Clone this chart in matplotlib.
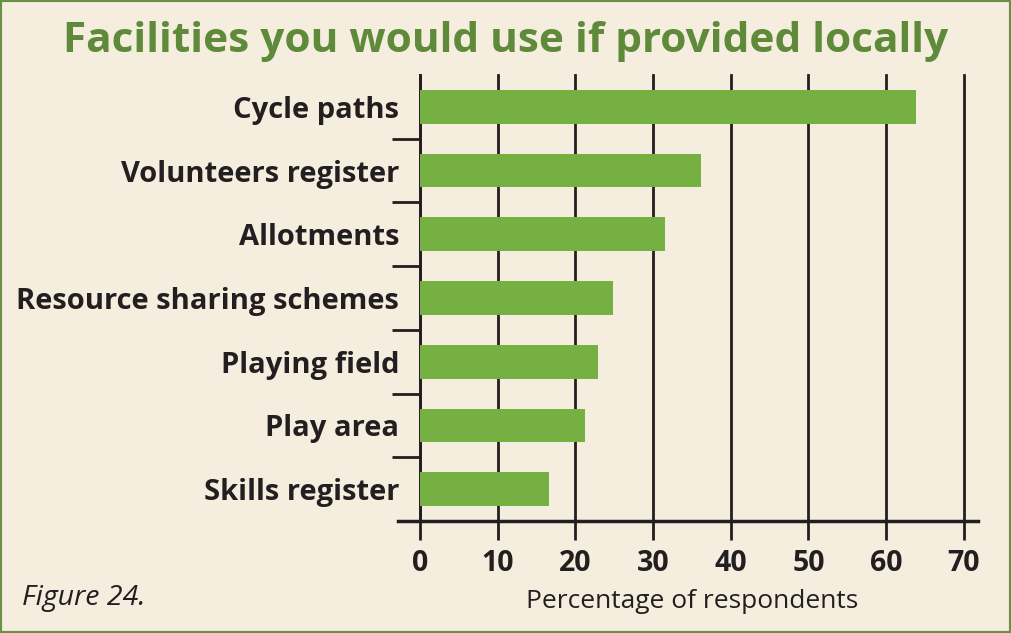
import numpy as np
import matplotlib.pyplot as plt
from matplotlib.patches import Rectangle

facilities = ['Cycle paths', 'Volunteers register', 'Allotments',
              'Resource sharing schemes', 'Playing field', 'Play area',
              'Skills register']
percentages = [63.8, 36.2, 31.5, 24.8, 22.9, 21.2, 16.6]
x_ticks = [0, 10, 20, 30, 40, 50, 60, 70]

bg = '#F5EEDF'
green_bar = '#76B043'
green_title = '#5E8A3A'
dark = '#231F20'

plt.rcParams['font.family'] = ['Open Sans', 'DejaVu Sans']

fig = plt.figure(figsize=(10.11, 6.33), dpi=100, facecolor=bg)
fig.patches.append(Rectangle((0, 0), 1, 1, transform=fig.transFigure,
                             fill=False, edgecolor='#6A8F47', linewidth=3))

ax = fig.add_axes([0.4154, 0.1769, 0.538, 0.7046])
ax.set_facecolor(bg)

y = np.arange(len(facilities))
ax.barh(y, percentages, height=0.53, color=green_bar, zorder=3)

ax.set_xlim(0, 70)
ax.set_ylim(len(facilities) - 0.5, -0.5)

ax.set_xticks(x_ticks)
ax.set_xticklabels([str(t) for t in x_ticks], fontsize=20.5, fontweight='bold', color=dark)
ax.tick_params(axis='x', length=14, width=2, color=dark, pad=6)
ax.grid(axis='x', color=dark, linewidth=2, zorder=1)
for gl in ax.xaxis.get_gridlines():
    gl.set_clip_on(False)

ax.set_yticks(y)
ax.set_yticklabels(facilities, fontsize=21, fontweight='bold', color=dark)
ax.tick_params(axis='y', which='major', length=0, pad=15)
ax.set_yticks(np.arange(len(facilities) - 1) + 0.5, minor=True)
ax.tick_params(axis='y', which='minor', length=20, width=2, color=dark)

for s in ['top', 'right', 'bottom']:
    ax.spines[s].set_visible(False)
ax.spines['left'].set_color(dark)
ax.spines['left'].set_linewidth(2)
ax.axhline(len(facilities) - 0.5, xmin=-0.04, xmax=1.026, color=dark,
           linewidth=2.5, clip_on=False, zorder=4)

ax.set_xlabel('Percentage of respondents', fontsize=19, color=dark, labelpad=8)

fig.text(0.5, 0.935, 'Facilities you would use if provided locally',
         ha='center', va='center', fontsize=30.5, fontweight='bold', color=green_title)
fig.text(0.022, 0.055, 'Figure 24.', ha='left', va='center', fontsize=20.5,
         style='italic', color=dark)

plt.savefig('out.png', dpi=100, facecolor=bg)
